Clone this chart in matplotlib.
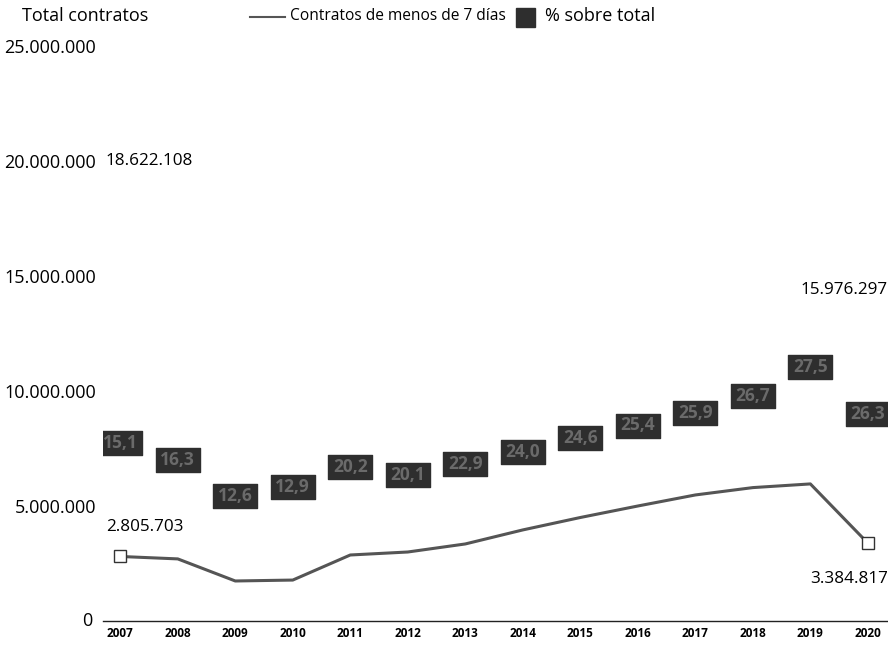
import matplotlib.pyplot as plt
from matplotlib.path import Path

plt.rcParams['font.family'] = ['Open Sans', 'DejaVu Sans']

years = list(range(2007, 2021))
# contratos de menos de 7 dias
short_contracts = [2805703, 2700000, 1740000, 1780000, 2870000, 3000000, 3350000,
                   3960000, 4500000, 5000000, 5480000, 5800000, 5960000, 3384817]
# % sobre total (values mostly unreadable in the scan, estimated)
pct = [15.1, 16.3, 12.6, 12.9, 20.2, 20.1, 22.9, 24.0, 24.6, 25.4, 25.9, 26.7, 27.5, 26.3]
# level where each % box sits
box_level = [7740000, 7000000, 5430000, 5830000, 6700000, 6350000, 6830000,
             7350000, 7960000, 8500000, 9040000, 9780000, 11040000, 9000000]
y_ticks = [0, 5000000, 10000000, 15000000, 20000000, 25000000]
total_first, total_last = 18622108, 15976297

def fmt(v):
    return f"{v:,}".replace(",", ".")

fig = plt.figure(figsize=(8.88, 6.45), dpi=100)
ax = fig.add_axes([103/888, 24/645, 785/888, 598/645])
ax.set_xlim(2006.7, 2020.35)
ax.set_ylim(0, 26000000)

# line
ax.plot(years, short_contracts, color='#555555', lw=2.2, zorder=3)
ax.plot([years[0], years[-1]], [short_contracts[0], short_contracts[-1]], ls='none',
        marker='s', ms=9, mfc='white', mec='#333333', mew=1, zorder=4)

# % boxes
rect = Path([(-1, -0.57), (1, -0.57), (1, 0.57), (-1, 0.57), (-1, -0.57)],
            [Path.MOVETO, Path.LINETO, Path.LINETO, Path.LINETO, Path.CLOSEPOLY])
ax.plot(years, box_level, ls='none', marker=rect, ms=31.5, mfc='#2e2e2e', mec='#2e2e2e', zorder=3)
for x, y, p in zip(years, box_level, pct):
    ax.text(x, y, f"{p:.1f}".replace(".", ","), ha='center', va='center',
            fontsize=12.5, color='#6a6a6a', fontweight='bold', zorder=5)

# annotations
ax.text(2007 - 0.26, 20000000, fmt(total_first), ha='left', va='center', fontsize=12.3)
ax.text(2007 - 0.25, short_contracts[0] + 1300000, fmt(short_contracts[0]), ha='left',
        va='center', fontsize=12.3)
ax.text(2020.35, 14400000, fmt(total_last), ha='right', va='center', fontsize=12.3, clip_on=False)
ax.text(2020.35, short_contracts[-1] - 1550000, fmt(short_contracts[-1]), ha='right',
        va='center', fontsize=12.3)

# axes styling
for s in ['top', 'right', 'left']:
    ax.spines[s].set_visible(False)
ax.spines['bottom'].set_color('#222222')
ax.spines['bottom'].set_linewidth(1)
ax.set_xticks(years)
ax.set_xticklabels([str(y) for y in years], fontsize=8.5, fontweight='bold')
ax.tick_params(axis='x', length=0, pad=4)
ax.set_yticks(y_ticks)
ax.set_yticklabels([fmt(v) if v else '' for v in y_ticks], fontsize=13)
ax.tick_params(axis='y', length=0, pad=5)
ax.text(-0.013, 0, '0', transform=ax.get_yaxis_transform(), ha='right', va='center', fontsize=13)

# header / legend
fig.text(22/888, 1 - 16/645, 'Total contratos', fontsize=13, va='center')
fig.lines.append(plt.Line2D([250/888, 285/888], [1 - 17/645] * 2, color='#555555', lw=1.5,
                            transform=fig.transFigure))
fig.text(290/888, 1 - 16/645, 'Contratos de menos de 7 días', fontsize=11.2, va='center')
fig.patches.append(plt.Rectangle((516/888, 1 - 27/645), 19/888, 19/645, color='#2e2e2e',
                                 transform=fig.transFigure))
fig.text(545/888, 1 - 16/645, '% sobre total', fontsize=13, va='center')

fig.savefig('out.png', dpi=100)
